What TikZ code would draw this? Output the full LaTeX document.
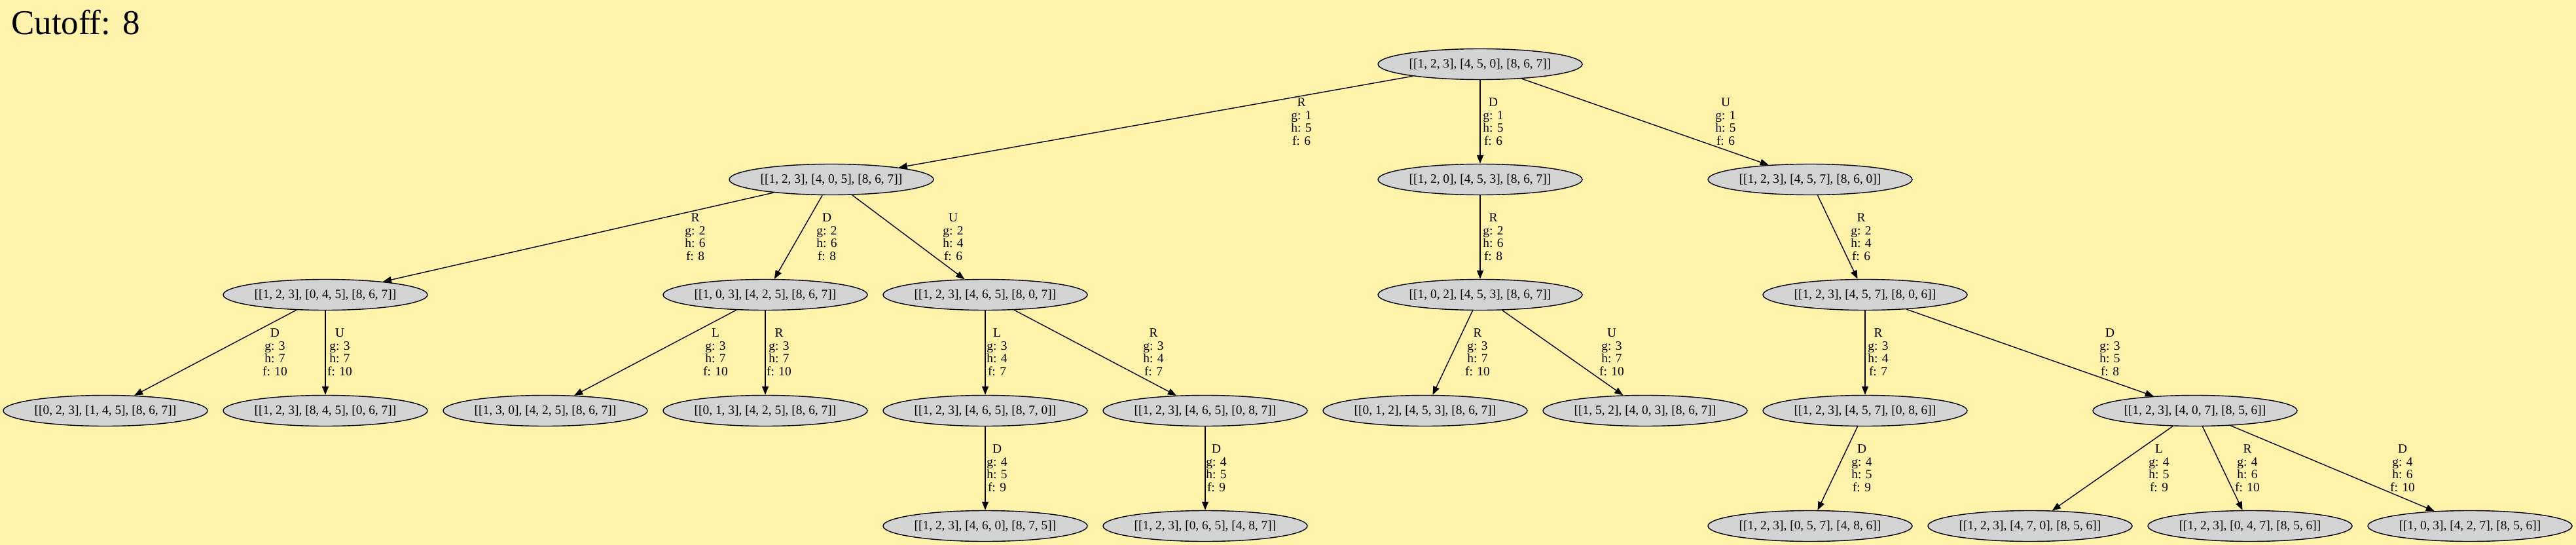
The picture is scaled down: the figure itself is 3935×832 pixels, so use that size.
\documentclass[tikz,border=0pt]{standalone}
\usepackage{fontspec}
\setmainfont{Liberation Serif}
\usetikzlibrary{shapes.geometric,arrows.meta}
\definecolor{bgyellow}{RGB}{255,242,170}
\definecolor{nodegray}{RGB}{211,211,211}
\newcommand{\nodefnt}{\fontsize{19.4}{19.5}\selectfont}
\tikzset{
  state/.style={ellipse, draw=black, fill=nodegray, line width=1.4pt,
    minimum width=312pt, minimum height=47pt, inner sep=0pt, font=\nodefnt},
  elabel/.style={align=center, inner sep=0pt, font=\nodefnt},
  edge/.style={-{Triangle[length=13pt,width=10pt]}, line width=1.4pt},
  titletext/.style={anchor=base west, inner sep=0pt, font=\fontsize{53}{60}\selectfont}
}
\begin{document}
\begin{tikzpicture}[x=1pt,y=-1pt]
\path[fill=bgyellow, use as bounding box] (0,0) rectangle (3935,832);
\node[titletext] (title) at (17,53) {Cutoff: 8};
% level 0
\node[state] (r) at (2261,98) {[[1, 2, 3], [4, 5, 0], [8, 6, 7]]};
% level 1
\node[state] (a1) at (1270,274) {[[1, 2, 3], [4, 0, 5], [8, 6, 7]]};
\node[state] (a2) at (2261,274) {[[1, 2, 0], [4, 5, 3], [8, 6, 7]]};
\node[state] (a3) at (2765,274) {[[1, 2, 3], [4, 5, 7], [8, 6, 0]]};
% level 2
\node[state] (b1) at (497,450) {[[1, 2, 3], [0, 4, 5], [8, 6, 7]]};
\node[state] (b2) at (1169,450) {[[1, 0, 3], [4, 2, 5], [8, 6, 7]]};
\node[state] (b3) at (1505,450) {[[1, 2, 3], [4, 6, 5], [8, 0, 7]]};
\node[state] (b4) at (2261,450) {[[1, 0, 2], [4, 5, 3], [8, 6, 7]]};
\node[state] (b5) at (2849,450) {[[1, 2, 3], [4, 5, 7], [8, 0, 6]]};
% level 3
\node[state] (c1) at (161,627) {[[0, 2, 3], [1, 4, 5], [8, 6, 7]]};
\node[state] (c2) at (497,627) {[[1, 2, 3], [8, 4, 5], [0, 6, 7]]};
\node[state] (c3) at (833,627) {[[1, 3, 0], [4, 2, 5], [8, 6, 7]]};
\node[state] (c4) at (1169,627) {[[0, 1, 3], [4, 2, 5], [8, 6, 7]]};
\node[state] (c5) at (1505,627) {[[1, 2, 3], [4, 6, 5], [8, 7, 0]]};
\node[state] (c6) at (1841,627) {[[1, 2, 3], [4, 6, 5], [0, 8, 7]]};
\node[state] (c7) at (2177,627) {[[0, 1, 2], [4, 5, 3], [8, 6, 7]]};
\node[state] (c8) at (2513,627) {[[1, 5, 2], [4, 0, 3], [8, 6, 7]]};
\node[state] (c9) at (2849,627) {[[1, 2, 3], [4, 5, 7], [0, 8, 6]]};
\node[state] (c10) at (3353,627) {[[1, 2, 3], [4, 0, 7], [8, 5, 6]]};
% level 4
\node[state] (d1) at (1505,803) {[[1, 2, 3], [4, 6, 0], [8, 7, 5]]};
\node[state] (d2) at (1841,803) {[[1, 2, 3], [0, 6, 5], [4, 8, 7]]};
\node[state] (d3) at (2765,803) {[[1, 2, 3], [0, 5, 7], [4, 8, 6]]};
\node[state] (d4) at (3101,803) {[[1, 2, 3], [4, 7, 0], [8, 5, 6]]};
\node[state] (d5) at (3437,803) {[[1, 2, 3], [0, 4, 7], [8, 5, 6]]};
\node[state] (d6) at (3773,803) {[[1, 0, 3], [4, 2, 7], [8, 5, 6]]};
% edges
\draw[edge] (r) -- (a1);
\draw[edge] (r) -- (a2);
\draw[edge] (r) -- (a3);
\draw[edge] (a1) -- (b1);
\draw[edge] (a1) -- (b2);
\draw[edge] (a1) -- (b3);
\draw[edge] (a2) -- (b4);
\draw[edge] (a3) -- (b5);
\draw[edge] (b1) -- (c1);
\draw[edge] (b1) -- (c2);
\draw[edge] (b2) -- (c3);
\draw[edge] (b2) -- (c4);
\draw[edge] (b3) -- (c5);
\draw[edge] (b3) -- (c6);
\draw[edge] (b4) -- (c7);
\draw[edge] (b4) -- (c8);
\draw[edge] (b5) -- (c9);
\draw[edge] (b5) -- (c10);
\draw[edge] (c5) -- (d1);
\draw[edge] (c6) -- (d2);
\draw[edge] (c9) -- (d3);
\draw[edge] (c10) -- (d4);
\draw[edge] (c10) -- (d5);
\draw[edge] (c10) -- (d6);
% edge labels
\node[elabel] (l-r-a1) at (1988,186) {R\\g: 1\\h: 5\\f: 6};
\node[elabel] (l-r-a2) at (2281,186) {D\\g: 1\\h: 5\\f: 6};
\node[elabel] (l-r-a3) at (2636,186) {U\\g: 1\\h: 5\\f: 6};
\node[elabel] (l-a1-b1) at (1062,362) {R\\g: 2\\h: 6\\f: 8};
\node[elabel] (l-a1-b2) at (1263,362) {D\\g: 2\\h: 6\\f: 8};
\node[elabel] (l-a1-b3) at (1456,362) {U\\g: 2\\h: 4\\f: 6};
\node[elabel] (l-a2-b4) at (2281,362) {R\\g: 2\\h: 6\\f: 8};
\node[elabel] (l-a3-b5) at (2843,362) {R\\g: 2\\h: 4\\f: 6};
\node[elabel] (l-b1-c1) at (420,538) {D\\g: 3\\h: 7\\f: 10};
\node[elabel] (l-b1-c2) at (519,538) {U\\g: 3\\h: 7\\f: 10};
\node[elabel] (l-b2-c3) at (1093,538) {L\\g: 3\\h: 7\\f: 10};
\node[elabel] (l-b2-c4) at (1190,538) {R\\g: 3\\h: 7\\f: 10};
\node[elabel] (l-b3-c5) at (1523,538) {L\\g: 3\\h: 4\\f: 7};
\node[elabel] (l-b3-c6) at (1762,538) {R\\g: 3\\h: 4\\f: 7};
\node[elabel] (l-b4-c7) at (2257,538) {R\\g: 3\\h: 7\\f: 10};
\node[elabel] (l-b4-c8) at (2462,538) {U\\g: 3\\h: 7\\f: 10};
\node[elabel] (l-b5-c9) at (2869,538) {R\\g: 3\\h: 4\\f: 7};
\node[elabel] (l-b5-c10) at (3223,538) {D\\g: 3\\h: 5\\f: 8};
\node[elabel] (l-c5-d1) at (1523,715) {D\\g: 4\\h: 5\\f: 9};
\node[elabel] (l-c6-d2) at (1858,715) {D\\g: 4\\h: 5\\f: 9};
\node[elabel] (l-c9-d3) at (2844,715) {D\\g: 4\\h: 5\\f: 9};
\node[elabel] (l-c10-d4) at (3298,715) {L\\g: 4\\h: 5\\f: 9};
\node[elabel] (l-c10-d5) at (3433,715) {R\\g: 4\\h: 6\\f: 10};
\node[elabel] (l-c10-d6) at (3670,715) {D\\g: 4\\h: 6\\f: 10};
\end{tikzpicture}
\end{document}
